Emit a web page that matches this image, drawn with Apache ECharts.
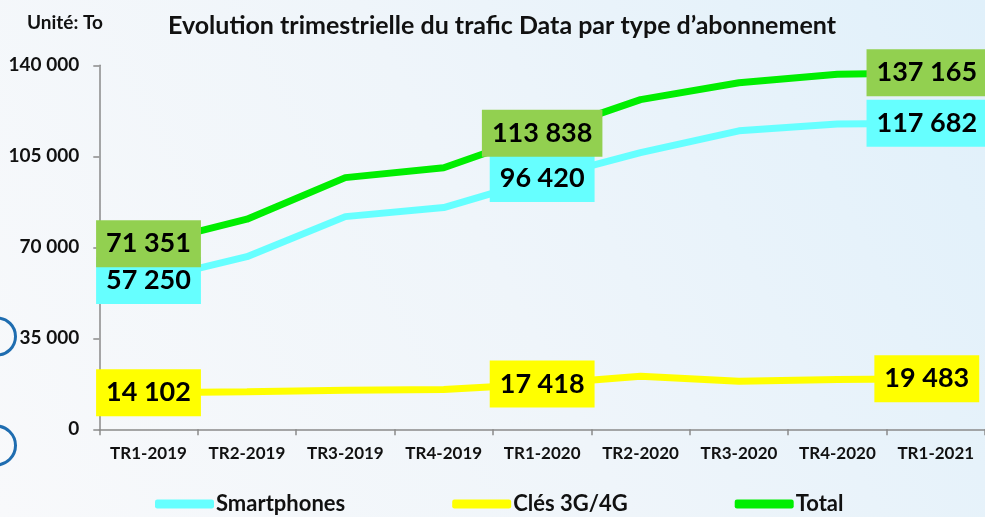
<!DOCTYPE html>
<html>
<head>
<meta charset="utf-8">
<script src="https://cdn.jsdelivr.net/npm/echarts@6/dist/echarts.min.js"></script>
<style>
  html, body { margin: 0; padding: 0; }
  #chart { width: 985px; height: 517px; }
</style>
</head>
<body>
<div id="chart"></div>
<script>
// Quarterly data traffic by subscription type (unit: To)
const quarters = ['TR1-2019', 'TR2-2019', 'TR3-2019', 'TR4-2019', 'TR1-2020', 'TR2-2020', 'TR3-2020', 'TR4-2020', 'TR1-2021'];
const smartphones = [57250, 66400, 81800, 85300, 96420, 106400, 114800, 117400, 117682];
const cles = [14102, 14400, 15000, 15300, 17418, 20400, 18500, 19200, 19483];
const total = [71351, 80800, 96800, 100600, 113838, 126800, 133300, 136600, 137165];
const labelledPoints = [0, 4, 8];
const yTicks = { min: 0, max: 140000, interval: 35000 };

const FONT = 'Lato';
const fmt = v => String(v).replace(/\B(?=(\d{3})+(?!\d))/g, ' ');

function buildData(values, boxColor) {
  return values.map((v, i) => ({
    value: v,
    label: {
      show: labelledPoints.includes(i),
      backgroundColor: boxColor,
      offset: i === values.length - 1 ? [-9, 0] : [0, 0]
    }
  }));
}

function lineSeries(name, values, lineColor, boxColor, z) {
  return {
    name,
    type: 'line',
    data: buildData(values, boxColor),
    symbol: 'circle',
    symbolSize: 1,
    showSymbol: true,
    z,
    lineStyle: { color: lineColor, width: 7 },
    itemStyle: { color: lineColor },
    label: {
      position: 'inside',
      formatter: p => fmt(p.value),
      fontFamily: FONT,
      fontWeight: 'bold',
      fontSize: 27,
      color: '#000',
      padding: [9, 10, 8, 10],
      lineHeight: 30
    }
  };
}

const chart = echarts.init(document.getElementById('chart'));
chart.setOption({
  backgroundColor: {
    type: 'linear', x: 0, y: 1, x2: 1, y2: 0,
    colorStops: [
      { offset: 0, color: '#f8f9fb' },
      { offset: 0.5, color: '#eff5fa' },
      { offset: 1, color: '#e0f0fa' }
    ]
  },
  animation: false,
  title: {
    text: 'Evolution trimestrielle du trafic Data par type d\u2019abonnement',
    left: 163, top: 8,
    textStyle: { fontFamily: FONT, fontWeight: 'bold', fontSize: 25, color: '#111' }
  },
  graphic: [
    { type: 'text', left: 27, top: 13, style: { text: 'Unité: To', font: 'bold 19px Lato', fill: '#111' } },
    { type: 'circle', shape: { cx: -3, cy: 336.5, r: 18.5 }, style: { fill: 'none', stroke: '#1f6db0', lineWidth: 3 } },
    { type: 'circle', shape: { cx: -4, cy: 445.5, r: 19.5 }, style: { fill: 'none', stroke: '#1f6db0', lineWidth: 3 } }
  ],
  legend: {
    bottom: -3, left: 150,
    itemWidth: 59, itemHeight: 9, itemGap: 107,
    icon: 'roundRect',
    textStyle: { fontFamily: FONT, fontWeight: 'bold', fontSize: 22, color: '#111', padding: [0, 0, 0, -3] },
    data: ['Smartphones', 'Clés 3G/4G', 'Total']
  },
  grid: { left: 99.3, right: -2, top: 65.3, bottom: 87.7 },
  xAxis: {
    type: 'category',
    data: quarters,
    boundaryGap: true,
    axisLine: { lineStyle: { color: '#8a8a8a', width: 1.5 } },
    axisTick: { show: true, length: 6, lineStyle: { color: '#8a8a8a', width: 1.5 } },
    axisLabel: { interval: 0, fontFamily: FONT, fontWeight: 'bold', fontSize: 17, color: '#111', margin: 16 }
  },
  yAxis: {
    type: 'value',
    min: yTicks.min, max: yTicks.max, interval: yTicks.interval,
    axisLine: { show: true, lineStyle: { color: '#8a8a8a', width: 1.5 } },
    axisTick: { show: true, length: 6, lineStyle: { color: '#8a8a8a', width: 1.5 } },
    splitLine: { show: false },
    axisLabel: { fontFamily: FONT, fontWeight: 'bold', fontSize: 19, color: '#111', margin: 20, formatter: v => fmt(v) }
  },
  series: [
    lineSeries('Smartphones', smartphones, '#66ffff', '#66ffff', 3),
    lineSeries('Clés 3G/4G', cles, '#ffff00', '#ffff00', 4),
    lineSeries('Total', total, '#00ee00', '#92d050', 5)
  ]
});
</script>
</body>
</html>
